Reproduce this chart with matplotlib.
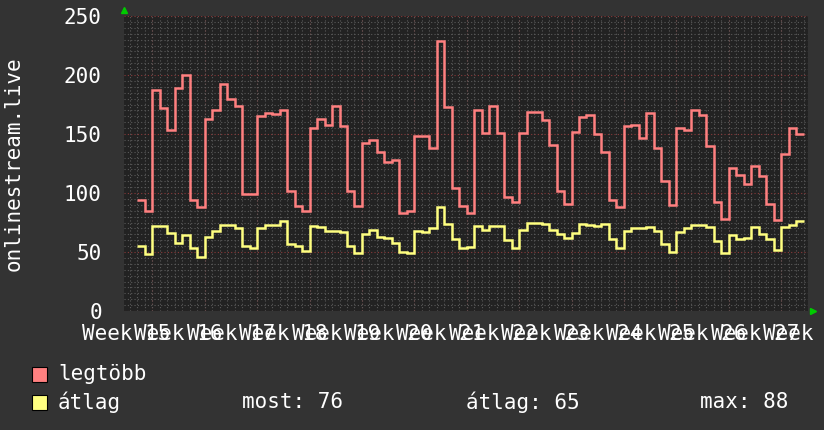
import numpy as np
import matplotlib
matplotlib.use("Agg")
import matplotlib.pyplot as plt
from matplotlib.patches import Rectangle

# daily values, 89 days
legtobb = [94, 85, 187, 172, 153, 189, 200, 94, 88, 163, 170, 192, 180, 174, 99, 99, 165,
           168, 167, 170, 102, 89, 85, 155, 163, 158, 174, 157, 102, 89, 142, 145, 135, 126, 128,
           83, 85, 148, 148, 138, 229, 173, 104, 89, 83, 170, 151, 174, 151, 97, 92, 151, 169,
           169, 162, 141, 102, 91, 152, 164, 166, 150, 135, 94, 88, 157, 158, 147, 168, 138, 110,
           90, 155, 153, 170, 166, 140, 92, 78, 121, 115, 108, 123, 114, 91, 77, 133, 155, 150]
atlag = [55, 48, 72, 72, 66, 58, 64, 53, 46, 63, 68, 73, 73, 70, 55, 53, 70,
         73, 73, 76, 57, 55, 51, 72, 71, 68, 68, 67, 55, 49, 65, 69, 63, 62, 58,
         50, 49, 68, 67, 70, 88, 74, 61, 53, 54, 72, 69, 72, 72, 60, 53, 69, 75,
         75, 74, 69, 65, 62, 66, 74, 73, 72, 74, 61, 53, 68, 70, 70, 71, 68, 57,
         50, 67, 70, 73, 73, 71, 59, 49, 64, 61, 62, 71, 65, 61, 52, 71, 73, 76]
week_numbers = list(range(15, 29))
legend_stats = ["most: 76", "átlag: 65", "max: 88"]

bg = "#333333"
plot_bg = "#222222"
red = "#ff8080"
yellow = "#ffff80"
font = "DejaVu Sans Mono"
fs = 15

fig = plt.figure(figsize=(8.24, 4.30), dpi=100, facecolor=bg)
ax = fig.add_axes([124 / 824, 1 - 311 / 430, (808 - 124) / 824, (311 - 16) / 430])
ax.set_facecolor(plot_bg)

edges = np.arange(len(legtobb) + 1)
ax.stairs(legtobb, edges, baseline=None, color=red, lw=1.8, zorder=3)
ax.stairs(atlag, edges, baseline=None, color=yellow, lw=1.8, zorder=3)

ax.set_xlim(-1.8, 89.6)
ax.set_ylim(0, 250)

# grid: daily / every 5 minor, weekly / every 50 major
ax.set_xticks(np.arange(-1, 90), minor=True)
ax.set_yticks(np.arange(0, 251, 5), minor=True)
ax.set_yticks(np.arange(0, 251, 50))
ax.grid(which="minor", color="#5a5a5a", linestyle=(0, (1, 2)), lw=0.8)
ax.grid(which="major", axis="y", color="#8a3a3a", linestyle=(0, (1, 2)), lw=0.8)
week_starts = [2 + 7 * i for i in range(len(week_numbers) - 1)]
ax.vlines(week_starts, 0, 250, color="#8a3a3a", linestyle=(0, (1, 2)), lw=0.8, zorder=1)

# week labels centred on each week
ax.set_xticks([7 * i - 1.5 for i in range(len(week_numbers))])
ax.set_xticklabels([f"Week {w}" for w in week_numbers])
ax.tick_params(which="both", length=0, colors="white", labelsize=fs)
ax.tick_params(axis="x", pad=9)
ax.tick_params(axis="y", pad=16)
for lab in ax.get_xticklabels() + ax.get_yticklabels():
    lab.set_fontfamily(font)
for s in ax.spines.values():
    s.set_visible(False)

ax.set_ylabel("onlinestream.live", color="white", fontsize=fs, family=font)
ax.yaxis.label.set_va("center")
ax.yaxis.set_label_coords((14 - 124) / 684, 0.5)

# axis arrows
ax.plot([0], [1.02], marker="^", color="#00cc00", ms=5, transform=ax.transAxes, clip_on=False)
ax.plot([1.007], [0], marker=">", color="#00cc00", ms=5, transform=ax.transAxes, clip_on=False)

# legend
W, H = 824, 430
for (y, c, name) in [(374, red, "legtöbb"), (402, yellow, "átlag")]:
    fig.patches.append(Rectangle((32 / W, 1 - (y + 7.5) / H), 15 / W, 15 / H,
                                 facecolor=c, edgecolor="black", lw=0.8,
                                 transform=fig.transFigure))
    fig.text(58 / W, 1 - y / H, name, color="white", fontsize=fs, family=font, va="center")
for x, t in zip([242, 466, 700], legend_stats):
    fig.text(x / W, 1 - 402 / H, t, color="white", fontsize=fs, family=font, va="center")

fig.savefig("out.png", dpi=100, facecolor=bg)
